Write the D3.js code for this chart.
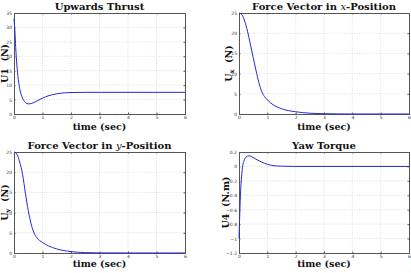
<!DOCTYPE html>
<html>
<head>
<meta charset="utf-8">
<script src="https://cdn.jsdelivr.net/npm/d3@7"></script>
<style>
  body { margin: 0; background: #fff; }
  svg { display: block; }
  .title, .xlab, .ylab { font-family: "DejaVu Serif", serif; font-weight: bold; fill: #111; }
</style>
</head>
<body>
<div id="chart"></div>
<script>
// sample times (sec) and control signals
const t1 = [0, 0.03, 0.06, 0.1, 0.15, 0.2, 0.3, 0.4, 0.5, 0.6, 0.8, 1.0, 1.2, 1.5, 1.8, 2.0, 2.5, 3, 6]
const u1 = [33, 29, 23, 17, 12, 8.8, 5.5, 4.0, 3.5, 3.6, 4.5, 5.5, 6.3, 7.0, 7.35, 7.45, 7.5, 7.5, 7.5]

const tx = [0, 0.1, 0.2, 0.3, 0.4, 0.5, 0.6, 0.7, 0.8, 0.9, 1.0, 1.2, 1.5, 2.0, 2.5, 3.0, 3.5, 4, 6]
const ux = [25, 24.6, 23, 20.5, 17.3, 14, 10.8, 7.8, 5.6, 4.3, 3.5, 2.3, 1.3, 0.55, 0.2, 0.07, 0.02, 0, 0]

const ty = [0, 0.1, 0.2, 0.3, 0.4, 0.5, 0.6, 0.7, 0.8, 1.0, 1.2, 1.5, 2.0, 2.5, 3, 6]
const uy = [25, 24.5, 22.5, 19.5, 14.8, 10.5, 7.2, 5.0, 3.8, 2.6, 1.8, 1.0, 0.35, 0.1, 0.02, 0]

const t4 = [0, 0.02, 0.05, 0.08, 0.12, 0.17, 0.25, 0.35, 0.45, 0.6, 0.8, 1.0, 1.2, 1.5, 2, 6]
const u4 = [-1.0, -0.75, -0.4, -0.2, -0.02, 0.07, 0.13, 0.148, 0.135, 0.1, 0.06, 0.03, 0.012, 0.003, 0, 0]

const timeTicks = [0, 1, 2, 3, 4, 5, 6]
const panels = [
  { title: ['Upwards Thrust'], ylab: ['U1', '', ' (N)'], t: t1, u: u1, ydom: [0, 35], yticks: [0, 5, 10, 15, 20, 25, 30, 35],
    x0: 14, x1: 185, y0: 13, y1: 114, xl: 129.5, yl: 8 },
  { title: ['Force Vector in ', 'x', '-Position'], ylab: ['U', 'x', ' (N)'], t: tx, u: ux, ydom: [0, 25], yticks: [0, 5, 10, 15, 20, 25],
    x0: 239, x1: 409, y0: 13, y1: 114, xl: 129.5, yl: 232 },
  { title: ['Force Vector in ', 'y', '-Position'], ylab: ['U', 'y', ' (N)'], t: ty, u: uy, ydom: [0, 25], yticks: [0, 5, 10, 15, 20, 25],
    x0: 14, x1: 185, y0: 152, y1: 253, xl: 266.5, yl: 8 },
  { title: ['Yaw Torque'], ylab: ['U4', '', ' (N.m)'], t: t4, u: u4, ydom: [-1.2, 0.2], yticks: [-1.2, -1, -0.8, -0.6, -0.4, -0.2, 0, 0.2],
    x0: 239, x1: 409, y0: 152, y1: 253, xl: 266.5, yl: 229 }
]

const svg = d3.select('#chart').append('svg')
  .attr('width', 411)
  .attr('height', 273)

panels.forEach(p => {
  const x = d3.scaleLinear().domain([0, 6]).range([p.x0, p.x1])
  const y = d3.scaleLinear().domain(p.ydom).range([p.y1, p.y0])
  const g = svg.append('g')

  // dotted grid
  g.selectAll('.gx').data(timeTicks.slice(1, -1)).join('line')
    .attr('x1', d => x(d)).attr('x2', d => x(d))
    .attr('y1', p.y0).attr('y2', p.y1)
    .style('stroke', '#c8c8c8').style('stroke-width', 0.6).style('stroke-dasharray', '1,1.5')
  g.selectAll('.gy').data(p.yticks.slice(1, -1)).join('line')
    .attr('x1', p.x0).attr('x2', p.x1)
    .attr('y1', d => y(d)).attr('y2', d => y(d))
    .style('stroke', '#c8c8c8').style('stroke-width', 0.6).style('stroke-dasharray', '1,1.5')

  // axes with inward ticks
  const fmt = d => d3.format('~g')(d)
  g.append('g')
    .attr('transform', `translate(0,${p.y1})`)
    .call(d3.axisBottom(x).tickValues(timeTicks).tickSize(-1.5).tickPadding(1.5).tickFormat(fmt))
  g.append('g')
    .attr('transform', `translate(${p.x0},0)`)
    .call(d3.axisLeft(y).tickValues(p.yticks).tickSize(-1.5).tickPadding(2).tickFormat(fmt))
  g.append('g')
    .attr('transform', `translate(0,${p.y0})`)
    .call(d3.axisTop(x).tickValues(timeTicks).tickSize(-1.5).tickFormat(''))
  g.append('g')
    .attr('transform', `translate(${p.x1},0)`)
    .call(d3.axisRight(y).tickValues(p.yticks).tickSize(-1.5).tickFormat(''))
  g.selectAll('.domain').style('stroke', '#555').style('stroke-width', 1)
  g.selectAll('.tick line').style('stroke', '#555')
  g.selectAll('.tick text').style('font-size', '4.5px').style('fill', '#333').style('font-family', 'DejaVu Sans')

  // signal
  g.append('path')
    .datum(p.t.map((d, i) => [d, p.u[i]]))
    .attr('d', d3.line().x(d => x(d[0])).y(d => y(d[1])).curve(d3.curveMonotoneX))
    .style('fill', 'none').style('stroke', '#2828d8').style('stroke-width', 1)

  const cx = (p.x0 + p.x1) / 2
  // title
  const tt = g.append('text').attr('class', 'title')
    .attr('x', cx).attr('y', p.y0 - 3.5)
    .attr('text-anchor', 'middle').style('font-size', '10px')
  tt.append('tspan').text(p.title[0])
  if (p.title[1]) {
    tt.append('tspan').text(p.title[1]).style('font-style', 'italic').style('font-weight', 'normal')
    tt.append('tspan').text(p.title[2])
  }

  g.append('text').attr('class', 'xlab')
    .attr('x', cx).attr('y', p.xl)
    .attr('text-anchor', 'middle').style('font-size', '9.5px')
    .text('time (sec)')

  const yl = g.append('text').attr('class', 'ylab')
    .attr('transform', `translate(${p.yl},${(p.y0 + p.y1) / 2}) rotate(-90)`)
    .attr('text-anchor', 'middle').style('font-size', '9.5px')
  yl.append('tspan').text(p.ylab[0])
  if (p.ylab[1]) yl.append('tspan').text(p.ylab[1]).attr('dy', 2).style('font-size', '6.5px')
  yl.append('tspan').text('\u00a0' + p.ylab[2]).attr('dy', p.ylab[1] ? -2 : 0)
})
</script>
</body>
</html>
